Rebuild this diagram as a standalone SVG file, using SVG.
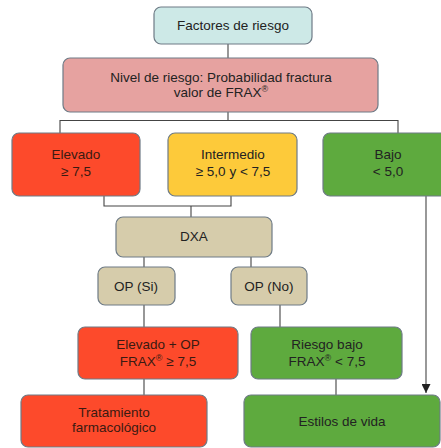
<svg xmlns="http://www.w3.org/2000/svg" width="441" height="448" viewBox="0 0 441 448">
<style>
.b{stroke:#6e7b86;stroke-width:1.2}
.t{font-family:"Liberation Sans",Arial,sans-serif;font-size:13.5px;fill:#222;text-anchor:middle}
.tr{fill:#3a1a12}
.c{stroke:#444;stroke-width:1.1;fill:none}
.s{font-size:9px}
.cyan{fill:#cde9e7}.pink{fill:#e6a2a0}.red{fill:#fd4a2b}.yel{fill:#fdca3a}.grn{fill:#5eaa3e}.tan{fill:#d6ccab}
</style>
<defs>
<marker id="ah" markerWidth="9" markerHeight="9" refX="9" refY="4.5" orient="auto" markerUnits="userSpaceOnUse" viewBox="0 0 9 9">
<path d="M0,0 L9,4.5 L0,9 Z" fill="#222"/>
</marker>
</defs>
<g id="connectors">
<path class="c" d="M228,44 V58"/>
<path class="c" d="M228,112 V120.5 M60,133 V120.5 H398 V133"/>
<path class="c" d="M104,196 V206 H231 V196 M191,206 V217"/>
<path class="c" d="M144,257 V267 M251,257 V267"/>
<path class="c" d="M144,305 V327 M144,379 V395"/>
<path class="c" d="M280,305 V327 M336,379 V395"/>
<path class="c" d="M426,196 V393" marker-end="url(#ah)"/>
</g>
<g id="factores"><rect class="b cyan" x="154" y="7" width="158" height="37" rx="7"/><text class="t" x="233" y="30">Factores de riesgo</text></g>
<g id="nivel"><rect class="b pink" x="63" y="58" width="315" height="54" rx="7"/><text class="t" x="221" y="82">Nivel de riesgo: Probabilidad fractura</text><text class="t" x="221" y="97">valor de FRAX<tspan class="s" dy="-5">®</tspan></text></g>
<g id="elevado"><rect class="b red" x="12" y="133" width="128" height="63" rx="7"/><text class="t tr" x="76" y="159">Elevado</text><text class="t tr" x="76" y="176">≥ 7,5</text></g>
<g id="intermedio"><rect class="b yel" x="168" y="133" width="129" height="63" rx="7"/><text class="t" x="233" y="159">Intermedio</text><text class="t" x="233" y="176">≥ 5,0 y &lt; 7,5</text></g>
<g id="bajo"><rect class="b grn" x="323" y="133" width="130" height="63" rx="7"/><text class="t" x="388" y="159">Bajo</text><text class="t" x="388" y="176">&lt; 5,0</text></g>
<g id="dxa"><rect class="b tan" x="116" y="217" width="156" height="40" rx="7"/><text class="t" x="194" y="241">DXA</text></g>
<g id="opsi"><rect class="b tan" x="98" y="267" width="77" height="38" rx="7"/><text class="t" x="136" y="291">OP (Si)</text></g>
<g id="opno"><rect class="b tan" x="231" y="267" width="76" height="38" rx="7"/><text class="t" x="269" y="291">OP (No)</text></g>
<g id="elevadoop"><rect class="b red" x="78" y="327" width="160" height="52" rx="7"/><text class="t tr" x="158" y="349">Elevado + OP</text><text class="t tr" x="158" y="366">FRAX<tspan class="s" dy="-5">®</tspan><tspan dy="5"> ≥ 7,5</tspan></text></g>
<g id="riesgobajo"><rect class="b grn" x="251" y="327" width="151" height="52" rx="7"/><text class="t" x="327" y="349">Riesgo bajo</text><text class="t" x="327" y="366">FRAX<tspan class="s" dy="-5">®</tspan><tspan dy="5"> &lt; 7,5</tspan></text></g>
<g id="tratamiento"><rect class="b red" x="21" y="395" width="186" height="52" rx="7"/><text class="t tr" x="114" y="417">Tratamiento</text><text class="t tr" x="114" y="432">farmacológico</text></g>
<g id="estilos"><rect class="b grn" x="244" y="395" width="196" height="52" rx="7"/><text class="t" x="342" y="426">Estilos de vida</text></g>
</svg>
